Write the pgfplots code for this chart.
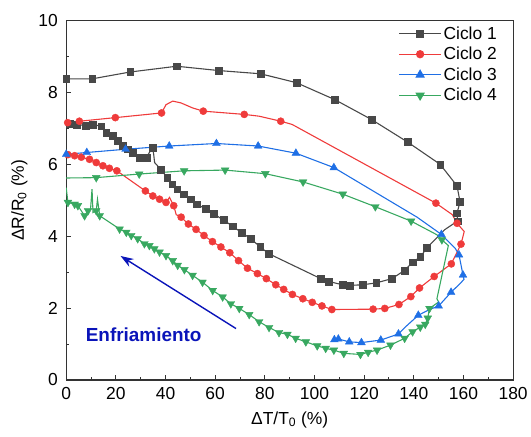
\documentclass[border=0pt]{standalone}
\usepackage{fontspec}
\setmainfont{Liberation Sans}
\usepackage{pgfplots}
\usepackage{pgfplotstable}
\pgfplotsset{compat=1.18}
\usetikzlibrary{arrows.meta}

\definecolor{c1}{RGB}{72,72,72}
\definecolor{c2}{RGB}{239,59,59}
\definecolor{c3}{RGB}{31,111,229}
\definecolor{c4}{RGB}{56,168,96}
\definecolor{arr}{RGB}{10,20,185}

\pgfplotstableread{
x y m
0 8.38 1
10.5 8.38 1
25.8 8.57 1
44.5 8.73 1
61.4 8.61 1
78.3 8.52 1
92.8 8.27 1
108.2 7.80 1
122.9 7.25 1
137.5 6.62 1
150.6 6.00 1
157.4 5.40 1
158.6 4.96 1
157.4 4.64 1
157.6 4.42 1
152.4 4.18 0
145.2 3.67 1
142.6 3.42 1
139.5 3.28 1
136.3 3.05 1
131.2 2.82 1
124.8 2.70 1
119.5 2.65 1
114.1 2.63 1
111.2 2.65 1
105.8 2.74 1
102.5 2.82 1
81.7 3.51 1
78.1 3.70 1
74.4 3.93 1
70.8 4.09 1
67.0 4.28 1
63.3 4.45 1
59.5 4.62 1
56.1 4.76 1
52.7 4.89 1
50.1 5.03 1
47.4 5.17 1
44.7 5.31 1
42.7 5.45 1
40.7 5.63 1
38.1 5.86 1
35.6 6.05 0
35.2 6.30 0
34.7 6.47 1
32.3 6.19 1
29.4 6.19 1
26.7 6.33 1
24.7 6.42 1
22.7 6.51 1
20.7 6.65 1
18.7 6.79 1
16.1 6.88 1
14.1 7.06 1
10.7 7.11 1
7.8 7.08 1
4.1 7.11 1
1.4 7.14 1
0 7.12 0
}\cycA

\pgfplotstableread{
x y m
0 7.15 0
0.6 7.16 1
5.3 7.20 1
19.8 7.30 1
38.4 7.43 1
40.2 7.66 0
42.9 7.76 0
46.2 7.71 0
50.9 7.57 0
55.2 7.48 1
71.7 7.39 1
77.7 7.34 0
86.4 7.20 1
91.0 7.11 0
148.9 4.92 1
155.5 4.60 0
157.4 4.36 1
160.3 4.13 0
159.0 3.78 1
155.1 3.23 1
148.2 2.88 1
142.3 2.56 1
138.8 2.32 1
134.0 2.10 1
128.3 1.99 1
123.6 1.97 1
107.0 1.96 1
103.0 2.06 1
99.1 2.16 1
95.3 2.26 1
91.1 2.38 1
87.6 2.52 1
84.4 2.65 1
80.6 2.82 1
77.0 2.96 1
73.0 3.11 1
69.4 3.32 1
65.9 3.54 1
62.3 3.70 1
58.9 3.85 1
55.5 4.02 1
52.3 4.19 1
49.2 4.34 1
46.3 4.53 1
44.3 4.60 0
43.3 4.85 1
41.6 5.08 0
40.2 4.94 1
37.6 5.03 1
34.9 5.12 1
31.9 5.26 1
20.4 5.82 1
17.4 5.89 1
14.8 5.96 1
12.1 6.05 1
9.4 6.14 1
6.1 6.20 1
3.4 6.24 1
0.7 6.27 1
}\cycB

\pgfplotstableread{
x y m
0 6.28 1
8.3 6.33 1
23.9 6.42 1
41.5 6.51 1
60.5 6.58 1
77.3 6.51 1
92.5 6.31 1
107.8 5.91 1
141.3 4.53 0
151.1 4.05 1
156.7 3.66 0
158.2 3.48 1
159.8 2.92 1
160.2 2.80 0
158.6 2.68 0
155.0 2.44 1
153.3 2.31 0
150.0 2.06 1
146.0 1.95 0
141.8 1.80 1
137.0 1.50 0
133.8 1.28 1
126.7 1.11 1
118.9 1.04 1
114.0 1.06 1
109.6 1.14 1
108.0 1.12 1
}\cycC

\pgfplotstableread{
x y m
0 5.62 0
12.1 5.63 1
29.4 5.73 1
47.5 5.82 1
64.0 5.84 1
80.2 5.74 1
95.4 5.51 1
111.4 5.17 1
124.5 4.82 1
138.9 4.42 1
149.3 4.04 0
151.3 3.90 1
153.9 3.74 0
149.3 2.26 0
150.0 2.17 0
146.3 1.99 1
145.6 1.72 1
144.6 1.55 1
142.6 1.47 1
139.5 1.34 1
136.3 1.16 1
130.6 0.97 1
125.2 0.83 1
121.6 0.77 1
118.5 0.71 1
111.8 0.74 1
107.8 0.83 1
104.5 0.88 1
101.1 0.95 1
96.5 1.06 1
92.4 1.16 1
89.1 1.27 1
85.7 1.32 1
81.7 1.46 1
77.7 1.62 1
73.7 1.82 1
69.7 1.99 1
66.3 2.12 1
63.0 2.31 1
59.0 2.49 1
54.9 2.72 1
50.9 2.91 1
47.6 3.07 1
44.9 3.19 1
42.9 3.32 1
40.2 3.46 1
37.6 3.56 1
35.5 3.65 1
33.5 3.74 1
31.5 3.79 1
28.8 3.93 1
26.2 4.02 1
24.2 4.11 1
21.5 4.20 1
13.5 4.57 1
12.6 5.03 0
12.1 4.71 1
10.8 4.66 0
10.4 5.31 0
9.8 4.75 0
8.8 4.71 1
7.4 4.57 1
4.7 4.85 1
3.4 4.89 1
0.7 4.94 1
0 5.35 0
}\cycD

\begin{document}
\begin{tikzpicture}
\begin{axis}[
  name=ax,
  scale only axis,
  width=449pt, height=361pt,
  xmin=0, xmax=180, ymin=0, ymax=10,
  xtick={0,20,...,180}, ytick={0,2,...,10},
  minor x tick num=1, minor y tick num=1,
  tick pos=left, tick align=inside,
  major tick length=5pt, minor tick length=3pt,
  axis line style={line width=1.3pt, black!80},
  every tick/.style={line width=1pt, black!80},
  /pgf/number format/assume math mode=true,
  tick label style={font=\fontsize{17.5}{17.5}\selectfont},
  xticklabel style={yshift=-4pt},
  yticklabel style={xshift=-5pt},
  label style={font=\fontsize{17.5}{17.5}\selectfont},
  xlabel style={yshift=-5pt},
  ylabel style={yshift=4pt},
  xlabel={ΔT/T\textsubscript{0} (\%)},
  ylabel={ΔR/R\textsubscript{0} (\%)},
  legend style={draw=none, fill=none, at={(rel axis cs:0.975,0.995)}, anchor=north east,
    font=\fontsize{17.5}{20}\selectfont, row sep=2.5pt},
  legend cell align=left,
  legend image code/.code={
    \draw[mark repeat=2, mark phase=2, #1] plot coordinates {(0pt,0pt) (21pt,0pt) (42pt,0pt)};
  },
]
\addlegendimage{c1, line width=1.1pt, mark=square*, mark size=3.4pt}
\addlegendentry{Ciclo 1}
\addlegendimage{c2, line width=1.1pt, mark=*, mark size=3.6pt}
\addlegendentry{Ciclo 2}
\addlegendimage{c3, line width=1.1pt, mark=triangle*, mark size=4.5pt}
\addlegendentry{Ciclo 3}
\addlegendimage{c4, line width=1.1pt, mark=triangle*, mark options={rotate=180}, mark size=4.5pt}
\addlegendentry{Ciclo 4}

\addplot[c1, line width=1.1pt, no marks, forget plot] table[x=x,y=y] {\cycA};
\addplot[c1, only marks, mark=square*, mark size=3.4pt, restrict y to domain=-1:11, forget plot] table[x=x,y expr=\thisrow{y}+100*(1-\thisrow{m})] {\cycA};
\addplot[c2, line width=1.1pt, no marks, forget plot] table[x=x,y=y] {\cycB};
\addplot[c2, only marks, mark=*, mark size=3.6pt, restrict y to domain=-1:11, forget plot] table[x=x,y expr=\thisrow{y}+100*(1-\thisrow{m})] {\cycB};
\addplot[c3, line width=1.1pt, no marks, forget plot] table[x=x,y=y] {\cycC};
\addplot[c3, only marks, mark=triangle*, mark size=4.5pt, restrict y to domain=-1:11, forget plot] table[x=x,y expr=\thisrow{y}+100*(1-\thisrow{m})] {\cycC};
\addplot[c4, line width=1.1pt, no marks, forget plot] table[x=x,y=y] {\cycD};
\addplot[c4, only marks, mark=triangle*, mark options={rotate=180}, mark size=4.5pt, restrict y to domain=-1:11, forget plot] table[x=x,y expr=\thisrow{y}+100*(1-\thisrow{m})] {\cycD};

\draw[arr, line width=1.4pt, -{Stealth[length=13pt, width=9pt]}] (axis cs:68.4,1.43) -- (axis cs:21.9,3.45);
\node[text=arr, font=\bfseries\fontsize{19}{19}\selectfont] at (axis cs:31.2,1.27) {Enfriamiento};
\end{axis}
\path ([xshift=-66.5pt,yshift=-57.3pt]ax.south west) rectangle ([xshift=16pt,yshift=20.7pt]ax.north east);
\end{tikzpicture}
\end{document}
